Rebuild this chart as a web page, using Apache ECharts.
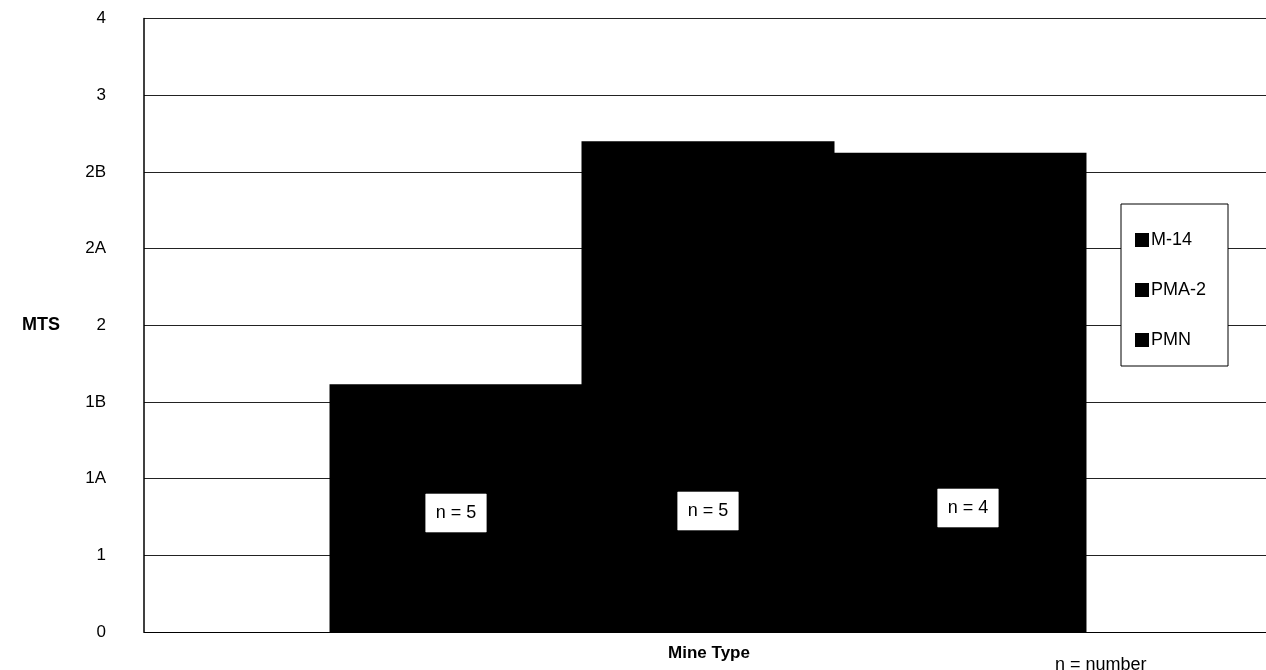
<!DOCTYPE html>
<html>
<head>
<meta charset="utf-8">
<script src="https://cdn.jsdelivr.net/npm/echarts@6/dist/echarts.min.js"></script>
<style>html,body{margin:0;padding:0;background:#fff;overflow:hidden;}#c{width:1290px;height:670px;}</style>
</head>
<body>
<div id="c"></div>
<script>
var categories = ['Mine Type'];
var seriesNames = ['M-14', 'PMA-2', 'PMN'];
var seriesValues = [3.23, 6.40, 6.25];
var sampleSizes = [5, 5, 4];
var tickLabels = ['0', '1', '1A', '1B', '2', '2A', '2B', '3', '4'];

var chart = echarts.init(document.getElementById('c'), null, {renderer: 'canvas'});
var font = 'Arial, "Liberation Sans", sans-serif';
var labelOffsets = [[0, 0], [0, -2], [8, -5]];

var series = seriesNames.map(function (name, i) {
  var data = categories.map(function () { return seriesValues[i]; });
  return {
    name: name,
    type: 'bar',
    data: data,
    barGap: '-0.4%',
    barWidth: 253,
    itemStyle: {color: '#000'},
    label: {
      show: true,
      position: 'insideBottom',
      distance: 100,
      offset: labelOffsets[i],
      formatter: 'n = ' + sampleSizes[i],
      color: '#000',
      fontFamily: font,
      fontSize: 18,
      backgroundColor: '#fff',
      borderColor: '#999',
      borderWidth: 0.5,
      padding: [10, 10, 10, 10]
    }
  };
});

chart.setOption({
  animation: false,
  backgroundColor: '#fff',
  textStyle: {fontFamily: font},
  grid: {left: 144, top: 18.5, bottom: 38, width: 1128, containLabel: false},
  title: [
    {text: 'Mine Type', left: 704, top: 640, textAlign: 'center',
     textStyle: {fontFamily: font, fontSize: 17, fontWeight: 'bold', color: '#000'}},
    {text: 'n = number', left: 1050, top: 651,
     textStyle: {fontFamily: font, fontSize: 18, fontWeight: 'normal', color: '#000'}}
  ],
  legend: {
    orient: 'vertical',
    left: 1121,
    top: 204,
    data: seriesNames,
    icon: 'rect',
    itemWidth: 14,
    itemHeight: 14,
    itemGap: 32,
    backgroundColor: '#fff',
    borderColor: '#000',
    borderWidth: 1,
    padding: [27, 22, 17, 14],
    textStyle: {fontFamily: font, fontSize: 18, color: '#000', padding: [0, 0, 0, -3]}
  },
  xAxis: {
    type: 'category',
    data: categories,
    axisLine: {show: true, lineStyle: {color: '#000', width: 1.2}},
    axisTick: {show: false},
    axisLabel: {show: false},
    splitLine: {show: false}
  },
  yAxis: {
    type: 'value',
    min: 0,
    max: 8,
    interval: 1,
    name: 'MTS',
    nameLocation: 'middle',
    nameRotate: 0,
    nameGap: 84,
    nameTextStyle: {fontFamily: font, fontSize: 18, fontWeight: 'bold', color: '#000'},
    axisLine: {show: true, lineStyle: {color: '#000', width: 1.5}},
    axisTick: {show: false},
    axisLabel: {
      margin: 38,
      fontFamily: font,
      fontSize: 17,
      color: '#000',
      formatter: function (v) { return tickLabels[Math.round(v)]; }
    },
    splitLine: {show: true, lineStyle: {color: '#222', width: 1}}
  },
  series: series
});
</script>
</body>
</html>
